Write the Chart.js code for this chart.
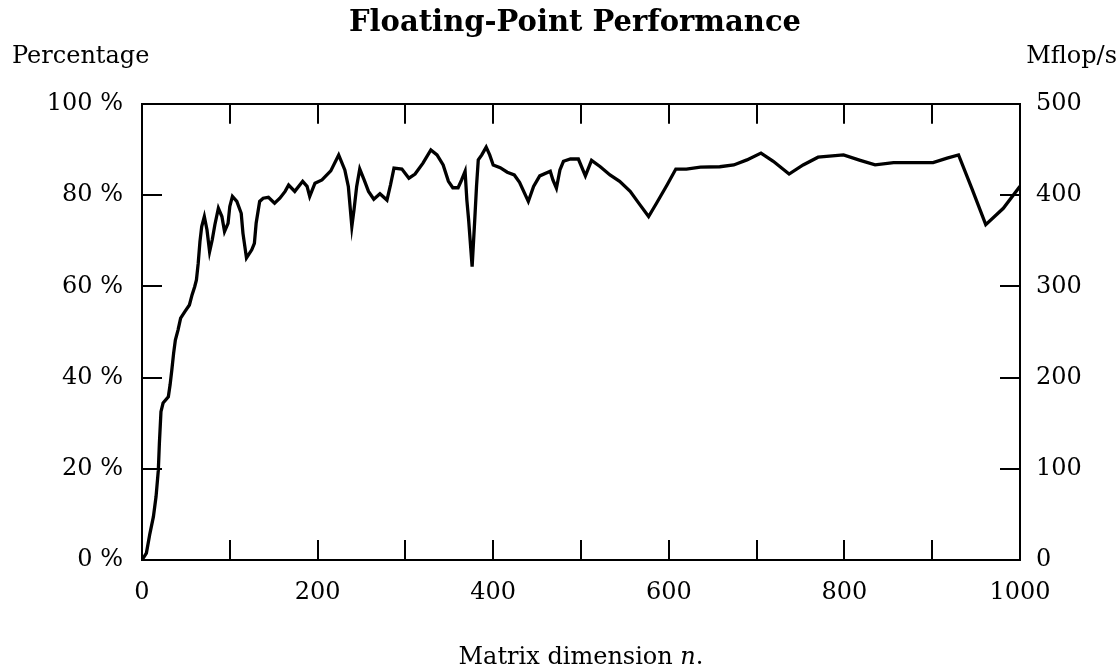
<!DOCTYPE html>
<html>
<head>
<meta charset="utf-8">
<style>
  html, body { margin: 0; padding: 0; background: #fff; }
  #wrap { width: 1119px; height: 667px; }
</style>
<script src="https://cdn.jsdelivr.net/npm/chart.js@4"></script>
</head>
<body>
<div id="wrap"><canvas id="c" width="1119" height="667"></canvas></div>
<script>
// ---- Data ----
const matrixDim = [0, 5, 9, 13, 16, 18.6, 19.8, 21.6, 24, 30, 32, 34, 36, 38, 41, 44, 49, 54, 57, 60, 62, 64, 66, 68, 71, 74, 77, 80, 83, 87, 91, 94, 98, 100, 103, 108, 113, 115, 119, 125, 128, 130, 134, 138, 144, 151, 157, 163, 167, 174, 183, 188, 191, 197, 205, 215, 224, 231, 235, 239, 241.5, 244.5, 248, 253, 258, 264, 271, 279, 283, 287, 296, 304, 311, 320, 329, 336, 343, 349, 354, 360, 364, 368, 370, 372, 376, 379, 381, 383, 387, 392, 396, 400, 408, 416, 424, 430, 440, 446, 453, 465, 468, 472, 476, 480, 488, 497, 505, 512, 522, 533, 544, 556, 567, 577, 586, 598, 608, 620, 636, 658, 674, 689, 705, 719, 737, 753, 770, 799, 818, 835, 856, 901, 917, 930, 945, 961, 981, 1000];
const percentage = [0, 1.5, 5.8, 9.5, 13.9, 19.7, 25.6, 32.5, 34.4, 35.8, 38.4, 41.7, 45.3, 48.2, 50.4, 53, 54.5, 55.9, 58.1, 59.9, 61.4, 65, 69.8, 73.1, 75.3, 72.4, 67.6, 70.2, 73.5, 77.1, 75.3, 72, 73.8, 77.5, 79.7, 78.6, 76, 71.6, 66.2, 68, 69.4, 73.8, 78.6, 79.3, 79.5, 78.2, 79.3, 80.8, 82.2, 80.8, 83, 81.9, 79.7, 82.6, 83.3, 85.3, 88.8, 85.5, 81.9, 73.1, 76.8, 81.9, 85.7, 83.3, 80.8, 79.1, 80.3, 78.9, 82.2, 85.9, 85.7, 83.7, 84.6, 87, 89.9, 88.8, 86.6, 83, 81.6, 81.6, 83.3, 85.2, 78.9, 74.6, 64.3, 74.6, 81.9, 87.7, 88.8, 90.5, 88.8, 86.6, 86, 85, 84.4, 82.8, 78.6, 81.9, 84.2, 85.2, 83.3, 81.5, 85.5, 87.4, 87.9, 87.9, 84.2, 87.6, 86.2, 84.4, 83, 80.8, 77.9, 75.3, 78.2, 82.2, 85.7, 85.7, 86.1, 86.2, 86.6, 87.7, 89.2, 87.4, 84.6, 86.6, 88.3, 88.8, 87.6, 86.6, 87.1, 87.1, 88.1, 88.8, 81.5, 73.5, 77.1, 81.9];
const xTickLabels = ['0', '200', '400', '600', '800', '1000'];
const leftTickSuffix = ' %';
const titleText = 'Floating-Point Performance';
const leftAxisText = 'Percentage';
const rightAxisText = 'Mflop/s';
const xAxisText = ['Matrix dimension ', 'n', '.'];

const FONT = 'DejaVu Serif';
const points = matrixDim.map((n, i) => ({ x: n, y: percentage[i] }));

const extraText = {
  id: 'extraText',
  afterDraw(chart) {
    const ctx = chart.ctx;
    const area = chart.chartArea;
    ctx.save();
    ctx.fillStyle = '#000';
    ctx.textBaseline = 'middle';
    ctx.font = '24px "' + FONT + '"';
    ctx.textAlign = 'left';
    ctx.fillText(leftAxisText, 12, 57);
    ctx.textAlign = 'right';
    ctx.fillText(rightAxisText, 1117, 57);
    // x-axis title with italic n
    const fN = '24px "' + FONT + '"';
    const fI = 'italic 24px "' + FONT + '"';
    ctx.font = fN; const w0 = ctx.measureText(xAxisText[0]).width;
    ctx.font = fI; const w1 = ctx.measureText(xAxisText[1]).width;
    ctx.font = fN; const w2 = ctx.measureText(xAxisText[2]).width;
    let x = (area.left + area.right) / 2 - (w0 + w1 + w2) / 2;
    const y = 658;
    ctx.textAlign = 'left';
    ctx.font = fN; ctx.fillText(xAxisText[0], x, y); x += w0;
    ctx.font = fI; ctx.fillText(xAxisText[1], x, y); x += w1;
    ctx.font = fN; ctx.fillText(xAxisText[2], x, y);
    ctx.restore();
  }
};

const gridOpts = { drawOnChartArea: false, drawTicks: true, tickLength: -20, color: '#000', lineWidth: 2 };
const borderOpts = { display: true, color: '#000', width: 2 };
const tickFont = { family: FONT, size: 24 };

new Chart(document.getElementById('c'), {
  type: 'line',
  data: {
    datasets: [{
      data: points,
      borderColor: '#000',
      borderWidth: 3.3,
      pointRadius: 0,
      tension: 0,
      fill: false
    }]
  },
  plugins: [extraText],
  options: {
    responsive: false,
    animation: false,
    devicePixelRatio: 1,
    layout: { padding: { left: 31, right: 0, top: 0, bottom: 0 } },
    plugins: {
      legend: { display: false },
      tooltip: { enabled: false },
      title: {
        display: true,
        text: titleText,
        color: '#000',
        font: { family: FONT, size: 29, weight: 'bold' },
        padding: { top: 6, bottom: 63 }
      }
    },
    scales: {
      x: {
        type: 'linear', position: 'bottom', min: 0, max: 1000,
        grid: gridOpts, border: borderOpts,
        ticks: {
          stepSize: 100, autoSkip: false, maxRotation: 0, color: '#000', font: tickFont, padding: 38,
          callback: (v) => { const s = String(v); return xTickLabels.includes(s) ? s : ''; }
        },
        afterFit: (s) => { s.height = 107; }
      },
      xTop: {
        type: 'linear', position: 'top', min: 0, max: 1000,
        grid: gridOpts, border: borderOpts,
        ticks: { stepSize: 100, autoSkip: false, display: false },
        afterFit: (s) => { s.height = 0; }
      },
      y: {
        type: 'linear', position: 'left', min: 0, max: 100,
        grid: gridOpts, border: borderOpts,
        ticks: { stepSize: 20, color: '#000', font: tickFont, padding: 39, callback: (v) => v + leftTickSuffix },
        afterFit: (s) => { s.width = 111; }
      },
      yRight: {
        type: 'linear', position: 'right', min: 0, max: 500,
        grid: gridOpts, border: borderOpts,
        ticks: { stepSize: 100, color: '#000', font: tickFont, padding: 36 },
        afterFit: (s) => { s.width = 99; }
      }
    }
  }
});
</script>
</body>
</html>
